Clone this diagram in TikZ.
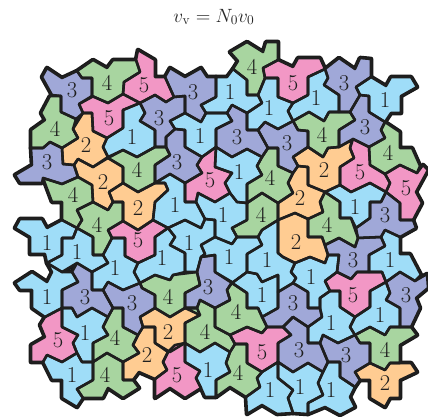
\documentclass[tikz,border=0pt]{standalone}
\usepackage{amsmath}
\definecolor{tb}{HTML}{9FDDF8}
\definecolor{tv}{HTML}{A0A8D8}
\definecolor{tg}{HTML}{A8D5A0}
\definecolor{tk}{HTML}{F297C5}
\definecolor{to}{HTML}{FFCC92}
\newcount\tl
\tikzset{
  outerline/.style={draw=black!90,line width=3.5pt,line join=round},
  tileline/.style={draw=black!88,line width=1.9pt,line join=round},
  digit/.style={text=black!88,inner sep=0pt,font=\fontsize{17}{20}\selectfont}
}
\newcommand{\tilesall}{%
\T{tv}{72,90}{3}{(42,77)--(47,68)--(62,78)--(77,71)--(82,78)--(92,78)--(92,97)--(79,104)--(83,113)--(76,119)--(61,112)--(61,96)--(52,95)--cycle}
\T{tg}{55,129}{4}{(50,96)--(61,96)--(61,112)--(76,119)--(73,129)--(78,138)--(62,148)--(50,142)--(43,148)--(31,148)--(31,130)--(45,120)--(41,113)--cycle}
\T{tg}{107,83}{4}{(77,71)--(93,60)--(107,68)--(113,60)--(136,60)--(140,72)--(124,82)--(123,94)--(108,103)--(92,96)--(92,78)--(82,78)--cycle}
\T{tk}{144,85}{5}{(138,50)--(155,60)--(155,77)--(165,77)--(174,97)--(166,102)--(155,95)--(140,103)--(123,94)--(124,82)--(140,72)--(136,60)--cycle}
\T{tv}{193,92}{3}{(165,77)--(170,68)--(185,77)--(201,68)--(207,77)--(216,77)--(216,97)--(201,105)--(206,113)--(201,122)--(185,113)--(185,96)--(174,97)--cycle}
\T{tv}{159,118}{3}{(140,103)--(155,95)--(166,102)--(174,97)--(185,96)--(185,113)--(170,121)--(175,129)--(166,137)--(166,147)--(155,147)--(155,130)--(140,121)--(145,113)--cycle}
\T{tk}{109,118}{5}{(79,104)--(92,96)--(108,103)--(123,94)--(140,103)--(123,110)--(123,128)--(107,138)--(93,131)--(92,113)--(83,113)--cycle}
\T{tb}{132,137}{1}{(123,110)--(140,103)--(145,113)--(140,121)--(155,130)--(155,147)--(137,157)--(123,150)--(108,157)--(103,147)--(107,138)--(123,128)--cycle}
\T{to}{86,145}{2}{(83,113)--(92,113)--(93,131)--(107,138)--(103,147)--(108,157)--(93,167)--(78,159)--(74,165)--(63,164)--(62,148)--(78,138)--(73,129)--cycle}
\T{tv}{47,162}{3}{(63,164)--(74,165)--(78,177)--(62,184)--(43,178)--(42,183)--(20,183)--(15,175)--(32,165)--(31,148)--(43,148)--(50,142)--(62,148)--cycle}
\T{to}{103,182}{2}{(78,159)--(93,167)--(108,158)--(123,167)--(123,183)--(109,192)--(113,202)--(108,210)--(93,202)--(92,185)--(78,177)--(74,165)--cycle}
\T{tg}{73,195}{4}{(43,178)--(62,184)--(78,177)--(92,185)--(93,202)--(77,210)--(82,220)--(77,228)--(62,220)--(62,202)--(52,202)--cycle}
\T{tg}{97,225}{4}{(77,210)--(93,202)--(108,210)--(113,202)--(123,202)--(123,221)--(108,230)--(112,238)--(103,255)--(93,255)--(93,237)--(77,228)--(82,220)--cycle}
\T{tg}{137,170}{4}{(108,158)--(123,150)--(137,157)--(155,147)--(166,147)--(170,155)--(155,165)--(155,183)--(138,192)--(123,183)--(123,167)--cycle}
\T{tv}{177,162}{3}{(166,147)--(166,137)--(175,129)--(185,130)--(185,147)--(202,157)--(197,165)--(202,173)--(185,183)--(170,174)--(155,183)--(155,165)--(170,155)--cycle}
\T{tk}{210,180}{5}{(216,147)--(202,157)--(197,165)--(202,173)--(185,183)--(185,202)--(196,202)--(198,193)--(215,202)--(230,193)--(225,183)--(232,173)--(215,167)--cycle}
\T{tb}{200,136}{1}{(170,121)--(185,113)--(201,122)--(206,113)--(227,113)--(232,121)--(216,129)--(216,147)--(202,157)--(185,147)--(185,130)--(175,129)--cycle}
\T{tb}{230,92}{1}{(216,77)--(227,77)--(233,69)--(247,80)--(247,95)--(258,95)--(262,103)--(247,113)--(232,105)--(227,113)--(206,113)--(201,105)--(216,97)--cycle}
\T{tg}{252,67}{4}{(230,52)--(247,42)--(263,52)--(266,42)--(278,42)--(278,60)--(263,68)--(265,78)--(258,95)--(247,95)--(247,80)--(233,69)--(238,61)--cycle}
\T{tk}{293,83}{5}{(263,68)--(278,60)--(293,67)--(298,58)--(320,58)--(325,69)--(308,77)--(308,95)--(293,103)--(278,97)--(278,78)--(265,78)--cycle}
\T{tb}{316,98}{1}{(308,77)--(325,69)--(328,78)--(324,85)--(339,95)--(339,112)--(329,112)--(324,121)--(309,112)--(293,121)--(288,111)--(293,103)--(308,95)--cycle}
\T{tb}{269,108}{1}{(265,78)--(278,78)--(278,97)--(293,103)--(288,111)--(293,121)--(278,129)--(265,122)--(258,130)--(247,130)--(247,113)--(262,103)--(258,95)--cycle}
\T{tv}{237,137}{3}{(216,129)--(232,121)--(227,113)--(232,105)--(247,113)--(247,130)--(258,130)--(268,148)--(262,157)--(247,149)--(232,157)--(216,147)--cycle}
\T{tv}{287,143}{3}{(258,130)--(265,122)--(278,129)--(293,121)--(298,130)--(308,131)--(308,147)--(293,157)--(298,166)--(293,173)--(278,166)--(278,148)--(268,148)--cycle}
\T{tg}{270,178}{4}{(262,157)--(268,148)--(278,148)--(278,166)--(293,173)--(288,183)--(293,193)--(278,203)--(262,193)--(247,203)--(247,184)--(262,175)--(257,166)--cycle}
\T{tb}{239,172}{1}{(216,147)--(232,157)--(247,149)--(262,157)--(257,166)--(262,175)--(247,184)--(247,203)--(237,202)--(230,193)--(225,183)--(232,173)--(215,167)--cycle}
\T{tb}{223,215}{1}{(196,202)--(198,193)--(215,202)--(230,193)--(237,202)--(247,203)--(247,220)--(232,228)--(237,237)--(232,244)--(215,237)--(215,220)--(205,219)--cycle}
\T{tb}{175,205}{1}{(155,183)--(170,174)--(185,183)--(185,202)--(196,202)--(205,219)--(201,228)--(185,220)--(168,228)--(153,220)--(155,202)--(168,190)--(165,183)--cycle}
\T{to}{138,208}{2}{(123,183)--(138,192)--(155,183)--(165,183)--(168,190)--(155,202)--(153,220)--(138,230)--(123,221)--(123,202)--(113,202)--(109,192)--cycle}
\T{tk}{138,240}{5}{(108,230)--(123,221)--(138,230)--(153,220)--(168,228)--(155,237)--(155,255)--(138,263)--(125,256)--(125,238)--(112,238)--cycle}
\T{tb}{189,243}{1}{(168,228)--(185,220)--(201,228)--(205,219)--(215,220)--(215,237)--(201,245)--(205,254)--(201,257)--(197,272)--(185,272)--(185,253)--(170,245)--(175,237)--cycle}
\T{tv}{208,287}{3}{(201,257)--(215,255)--(215,272)--(232,282)--(227,290)--(230,300)--(215,308)--(200,300)--(197,308)--(185,308)--(185,293)--(200,285)--(197,272)--cycle}
\T{tb}{162,258}{1}{(155,237)--(168,228)--(175,237)--(170,245)--(185,253)--(185,272)--(173,275)--(170,280)--(155,275)--(140,283)--(134,272)--(138,263)--(155,255)--cycle}
\T{tg}{168,297}{4}{(140,283)--(155,275)--(170,280)--(173,275)--(197,272)--(200,285)--(185,293)--(185,308)--(170,317)--(155,308)--(155,295)--(142,288)--cycle}
\T{tb}{115,268}{1}{(103,255)--(112,238)--(125,238)--(125,256)--(138,263)--(134,272)--(140,283)--(123,290)--(108,282)--(103,290)--(92,290)--(92,272)--(108,263)--cycle}
\T{tb}{77,252}{1}{(77,228)--(93,237)--(93,255)--(103,255)--(108,263)--(92,272)--(77,263)--(62,272)--(47,263)--(62,255)--(62,238)--(73,238)--cycle}
\T{tb}{47,243}{1}{(15,228)--(20,219)--(42,219)--(47,228)--(62,220)--(77,228)--(73,238)--(62,238)--(62,255)--(47,263)--(45,254)--(30,254)--(30,237)--cycle}
\T{tv}{85,297}{3}{(77,263)--(92,272)--(92,290)--(103,290)--(113,308)--(108,317)--(92,308)--(77,317)--(72,308)--(62,308)--(62,290)--(78,282)--(72,272)--cycle}
\T{tb}{47,297}{1}{(15,283)--(32,272)--(47,282)--(52,272)--(47,263)--(62,272)--(72,272)--(78,282)--(62,290)--(62,308)--(45,317)--(32,308)--(32,290)--(20,290)--cycle}
\T{tk}{58,340}{5}{(62,308)--(45,317)--(40,325)--(45,337)--(31,345)--(31,362)--(43,362)--(47,355)--(62,362)--(77,353)--(73,343)--(78,335)--(62,327)--cycle}
\T{tb}{85,333}{1}{(62,308)--(72,308)--(77,317)--(92,308)--(108,317)--(103,327)--(108,335)--(93,343)--(93,362)--(82,362)--(77,353)--(73,343)--(78,335)--(62,327)--cycle}
\T{tb}{72,375}{1}{(47,355)--(62,362)--(77,353)--(82,362)--(93,362)--(93,380)--(77,389)--(83,398)--(77,407)--(62,398)--(62,380)--(52,380)--(43,362)--cycle}
\T{tg}{105,375}{4}{(93,362)--(107,353)--(123,362)--(123,380)--(133,380)--(139,388)--(123,398)--(108,388)--(103,398)--(83,398)--(77,389)--(93,380)--cycle}
\T{tg}{115,338}{4}{(113,308)--(123,308)--(123,327)--(138,335)--(133,345)--(139,353)--(123,362)--(107,353)--(93,362)--(93,343)--(108,335)--(103,327)--(108,317)--cycle}
\T{tv}{132,303}{3}{(103,290)--(108,282)--(123,290)--(140,283)--(142,288)--(155,295)--(155,308)--(140,317)--(143,327)--(138,335)--(123,327)--(123,308)--(113,308)--cycle}
\T{to}{168,332}{2}{(140,317)--(155,308)--(170,317)--(185,308)--(197,308)--(200,315)--(185,323)--(185,343)--(170,352)--(155,343)--(155,327)--(143,327)--cycle}
\T{to}{147,355}{2}{(143,327)--(155,327)--(155,343)--(168,352)--(163,362)--(167,370)--(155,379)--(139,372)--(133,380)--(123,380)--(123,362)--(139,353)--(133,345)--(138,335)--cycle}
\T{tk}{177,375}{5}{(168,352)--(175,345)--(185,343)--(185,362)--(200,371)--(196,378)--(201,388)--(185,398)--(170,388)--(155,398)--(155,379)--(167,370)--(163,362)--cycle}
\T{tg}{205,332}{4}{(185,308)--(197,308)--(200,300)--(215,308)--(215,327)--(230,335)--(235,344)--(230,352)--(215,343)--(200,352)--(185,343)--(185,323)--(200,315)--cycle}
\T{tg}{236,312}{4}{(215,308)--(230,300)--(227,290)--(232,283)--(247,293)--(247,308)--(258,308)--(267,327)--(262,333)--(247,327)--(230,335)--(215,327)--cycle}
\T{tb}{208,370}{1}{(185,343)--(200,352)--(215,343)--(230,352)--(226,363)--(230,372)--(216,380)--(216,397)--(205,397)--(201,388)--(196,378)--(200,371)--(185,362)--cycle}
\T{tg}{238,373}{4}{(235,344)--(247,344)--(247,363)--(262,372)--(257,378)--(260,387)--(246,397)--(230,387)--(216,397)--(216,380)--(230,372)--(226,363)--(230,352)--cycle}
\T{tk}{262,352}{5}{(230,335)--(247,327)--(262,333)--(267,327)--(283,327)--(291,335)--(278,343)--(278,362)--(262,372)--(247,363)--(247,344)--(235,344)--cycle}
\T{tb}{262,295}{1}{(232,283)--(247,272)--(257,274)--(262,282)--(278,275)--(278,292)--(278,308)--(262,317)--(258,308)--(247,308)--(247,293)--cycle}
\T{tv}{293,303}{3}{(278,292)--(293,283)--(308,292)--(308,308)--(320,308)--(322,317)--(308,327)--(293,317)--(283,327)--(267,327)--(262,317)--(278,308)--cycle}
\T{tb}{229,257}{1}{(215,237)--(232,244)--(237,237)--(258,237)--(262,245)--(247,254)--(247,272)--(232,283)--(215,272)--(215,255)--(201,257)--(205,254)--(201,245)--cycle}
\T{tb}{267,260}{1}{(258,237)--(262,230)--(278,220)--(278,253)--(283,257)--(295,263)--(291,272)--(296,278)--(293,283)--(278,292)--(278,275)--(262,282)--(257,274)--(247,272)--(247,254)--(262,245)--cycle}
\T{tg}{261,215}{4}{(247,203)--(262,193)--(278,203)--(278,220)--(262,230)--(258,237)--(237,237)--(232,228)--(247,220)--cycle}
\T{to}{296,242}{2}{(278,220)--(295,213)--(308,219)--(308,237)--(322,237)--(328,255)--(325,263)--(310,257)--(295,263)--(283,257)--(278,253)--cycle}
\T{tb}{311,277}{1}{(295,263)--(310,257)--(325,263)--(328,255)--(339,255)--(337,272)--(325,281)--(330,291)--(320,298)--(320,308)--(308,308)--(308,292)--(293,283)--(296,278)--(291,272)--cycle}
\T{to}{300,198}{2}{(298,166)--(308,167)--(308,185)--(325,192)--(320,202)--(323,212)--(308,219)--(295,213)--(278,220)--(278,203)--(293,193)--(288,183)--(293,173)--cycle}
\T{to}{324,170}{2}{(293,157)--(308,147)--(323,157)--(328,148)--(339,147)--(352,140)--(350,148)--(354,158)--(340,167)--(340,185)--(325,192)--(308,185)--(308,167)--(298,166)--cycle}
\T{tg}{322,135}{4}{(293,121)--(309,112)--(324,121)--(329,112)--(350,112)--(355,120)--(339,130)--(339,147)--(328,148)--(323,157)--(308,147)--(308,131)--(298,130)--cycle}
\T{tv}{344,83}{3}{(325,69)--(339,58)--(355,69)--(360,58)--(371,59)--(371,77)--(356,87)--(360,95)--(350,112)--(339,112)--(339,95)--(324,85)--(328,78)--cycle}
\T{tb}{385,100}{1}{(356,87)--(371,77)--(386,86)--(391,77)--(411,77)--(417,87)--(401,96)--(401,113)--(391,113)--(385,122)--(369,112)--(369,96)--(360,95)--cycle}
\T{tv}{365,127}{3}{(360,95)--(369,96)--(369,112)--(385,122)--(381,130)--(385,138)--(369,147)--(353,139)--(339,147)--(339,130)--(355,120)--(350,112)--cycle}
\T{tg}{388,153}{4}{(385,122)--(400,132)--(400,148)--(412,148)--(420,166)--(417,173)--(400,165)--(385,174)--(370,165)--(369,147)--(385,138)--(381,130)--cycle}
\T{tk}{360,172}{5}{(354,158)--(350,148)--(353,139)--(369,147)--(370,165)--(385,174)--(390,183)--(386,192)--(370,183)--(351,192)--(340,185)--(340,167)--cycle}
\T{tk}{406,188}{5}{(386,192)--(400,203)--(400,220)--(413,220)--(422,203)--(416,192)--(428,170)--(423,165)--(417,173)--(400,165)--(385,174)--(390,183)--cycle}
\T{tv}{385,215}{3}{(370,202)--(381,202)--(386,192)--(400,203)--(400,220)--(413,220)--(416,228)--(400,237)--(385,230)--(381,237)--(358,238)--(356,228)--(370,218)--cycle}
\T{tb}{355,207}{1}{(325,192)--(340,185)--(351,192)--(370,183)--(386,192)--(381,202)--(370,202)--(370,218)--(356,228)--(351,218)--(340,218)--(340,202)--cycle}
\T{tg}{327,225}{4}{(308,219)--(323,212)--(320,202)--(325,192)--(340,202)--(340,218)--(351,218)--(358,238)--(355,247)--(339,238)--(325,245)--(322,237)--(308,237)--cycle}
\T{tv}{353,260}{3}{(325,245)--(339,238)--(355,247)--(358,238)--(381,237)--(385,246)--(369,255)--(369,272)--(357,272)--(351,279)--(337,272)--(339,255)--(328,255)--cycle}
\T{tb}{390,260}{1}{(385,230)--(400,237)--(400,254)--(410,254)--(421,275)--(415,281)--(400,272)--(386,282)--(382,272)--(369,272)--(369,255)--(385,246)--(381,237)--cycle}
\T{tk}{353,295}{5}{(325,281)--(337,272)--(351,279)--(357,272)--(382,272)--(386,282)--(370,291)--(370,307)--(355,317)--(340,307)--(340,291)--(330,291)--cycle}
\T{tb}{380,315}{1}{(370,291)--(386,282)--(390,293)--(386,300)--(400,308)--(400,327)--(390,327)--(385,335)--(370,327)--(355,335)--(350,327)--(355,317)--(370,307)--cycle}
\T{tv}{406,295}{3}{(386,282)--(400,272)--(415,281)--(427,274)--(428,288)--(416,298)--(420,308)--(411,327)--(400,327)--(400,308)--(386,300)--(390,293)--cycle}
\T{tg}{385,350}{4}{(355,335)--(370,327)--(385,335)--(390,327)--(411,327)--(417,335)--(400,345)--(400,363)--(390,363)--(385,370)--(370,363)--(370,343)--(360,343)--cycle}
\T{to}{385,383}{2}{(355,372)--(370,363)--(385,370)--(390,363)--(411,363)--(417,372)--(400,380)--(400,398)--(390,398)--(385,407)--(370,398)--(370,380)--(360,380)--cycle}
\T{tv}{346,355}{3}{(320,343)--(323,335)--(338,343)--(355,335)--(360,343)--(370,343)--(370,363)--(355,372)--(360,380)--(355,387)--(340,377)--(340,362)--(328,362)--cycle}
\T{tb}{331,323}{1}{(320,308)--(320,298)--(330,291)--(340,291)--(340,307)--(355,317)--(350,327)--(355,335)--(338,343)--(323,335)--(320,343)--(308,343)--(308,327)--(322,317)--cycle}
\T{tv}{299,350}{3}{(293,317)--(308,327)--(308,343)--(320,343)--(328,362)--(323,372)--(308,363)--(293,372)--(278,362)--(278,343)--(291,335)--(283,327)--cycle}
\T{tb}{331,390}{1}{(323,372)--(328,362)--(340,362)--(340,377)--(355,387)--(350,397)--(355,407)--(340,415)--(325,407)--(308,414)--(308,403)--(323,395)--(318,383)--cycle}
\T{tb}{300,387}{1}{(278,362)--(293,372)--(308,363)--(323,372)--(318,383)--(323,395)--(308,403)--(308,414)--(293,413)--(288,398)--(293,390)--(278,378)--cycle}
\T{tb}{270,390}{1}{(262,372)--(278,362)--(278,378)--(293,390)--(288,398)--(293,413)--(277,414)--(262,405)--(247,414)--(246,397)--(260,387)--(257,378)--cycle}
}
\newcommand{\T}[4]{}
\begin{document}
\begin{tikzpicture}[x=0.75pt,y=-0.75pt]
\useasboundingbox (0,0) rectangle (428,417);
\node[font=\fontsize{14.5}{17}\selectfont,text=black!85] (title) at (214,17) {$v_{\mathrm{v}}=N_0v_0$};
\renewcommand{\T}[4]{\draw[outerline] #4;}
\tilesall
\renewcommand{\T}[4]{\fill[#1] #4;}
\tilesall
\renewcommand{\T}[4]{\draw[tileline] #4;}
\tilesall
\renewcommand{\T}[4]{\global\advance\tl by 1\relax\node[digit] (d\the\tl) at (#2) {#3};}
\tilesall
\end{tikzpicture}
\end{document}
